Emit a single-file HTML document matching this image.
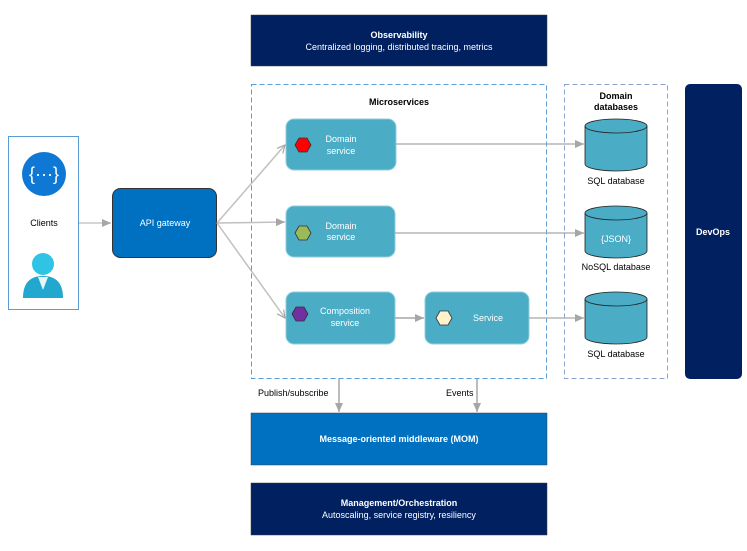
<!DOCTYPE html>
<html><head><style>
body{margin:0;background:#fff;}
svg{display:block;font-family:"Liberation Sans",sans-serif;}
</style></head><body>
<svg width="747" height="551" viewBox="0 0 747 551" xmlns="http://www.w3.org/2000/svg">
<defs>
<marker id="a" markerWidth="10" markerHeight="10" refX="9" refY="4" orient="auto" markerUnits="userSpaceOnUse"><path d="M0,0 L9,4 L0,8 z" fill="#a6a6a6"/></marker>
<marker id="o" markerWidth="10" markerHeight="10" refX="8" refY="4" orient="auto" markerUnits="userSpaceOnUse"><path d="M0,0 L8,4 L0,8" fill="none" stroke="#a6a6a6" stroke-width="1.2"/></marker>
</defs>
<!-- Observability -->
<rect x="251" y="15" width="296" height="51" fill="#002060" stroke="#404040" stroke-width="0.5"/>
<text x="399" y="38" fill="#fff" font-size="9" font-weight="bold" text-anchor="middle">Observability</text>
<text x="399" y="50" fill="#fff" font-size="9" text-anchor="middle">Centralized logging, distributed tracing, metrics</text>
<!-- Microservices -->
<rect x="251.5" y="84.5" width="295" height="294" fill="none" stroke="#5b9bd5" stroke-dasharray="5,3"/>
<text x="399" y="105" font-size="9" font-weight="bold" text-anchor="middle">Microservices</text>
<!-- Domain db -->
<rect x="564.5" y="84.5" width="103" height="294" fill="none" stroke="#8ea0d0" stroke-dasharray="5,3"/>
<text x="616" y="99" font-size="9" font-weight="bold" text-anchor="middle">Domain</text>
<text x="616" y="110" font-size="9" font-weight="bold" text-anchor="middle">databases</text>
<!-- DevOps -->
<rect x="685" y="84" width="57" height="295" rx="5" fill="#002060"/>
<text x="713" y="235" fill="#fff" font-size="9" font-weight="bold" text-anchor="middle">DevOps</text>
<!-- Clients -->
<rect x="8.5" y="136.5" width="70" height="173" fill="#fff" stroke="#5b9bd5"/>
<circle cx="44" cy="174" r="22" fill="#0f78d4"/>
<text x="44" y="180" fill="#fff" font-size="18" text-anchor="middle">{···}</text>
<text x="44" y="226" font-size="9" text-anchor="middle">Clients</text>
<circle cx="43" cy="264" r="11" fill="#2fc3e6"/>
<path d="M23,298 Q23,276 43,276 Q63,276 63,298 Z" fill="#22a7cf"/>
<path d="M38,277 L43,290 L48,277 Z" fill="#e6f7fc"/>
<!-- arrow clients->api -->
<line x1="79" y1="223" x2="111" y2="223" stroke="#c8c8c8" stroke-width="1.5" marker-end="url(#a)"/>
<!-- API gateway -->
<rect x="112.5" y="188.5" width="104" height="69" rx="8" fill="#0070c0" stroke="#333" stroke-width="1"/>
<text x="165" y="226" fill="#fff" font-size="9" text-anchor="middle">API gateway</text>
<!-- gateway fan -->
<line x1="217" y1="223" x2="285" y2="145" stroke="#c0c0c0" stroke-width="1.5" marker-end="url(#o)"/>
<line x1="217" y1="223" x2="285" y2="222" stroke="#c0c0c0" stroke-width="1.5" marker-end="url(#a)"/>
<line x1="217" y1="223" x2="285" y2="318" stroke="#c0c0c0" stroke-width="1.5" marker-end="url(#o)"/>
<!-- services -->
<rect x="286" y="119" width="110" height="51" rx="8" fill="#4bacc6" stroke="#92cddc" stroke-width="1"/>
<polygon points="295,145 299,138 307,138 311,145 307,152 299,152" fill="#ff0000" stroke="#333" stroke-width="0.8"/>
<text x="341" y="142" fill="#fff" font-size="9" text-anchor="middle">Domain</text>
<text x="341" y="154" fill="#fff" font-size="9" text-anchor="middle">service</text>
<rect x="286" y="206" width="109" height="51" rx="8" fill="#4bacc6" stroke="#92cddc" stroke-width="1"/>
<polygon points="295,233 299,226 307,226 311,233 307,240 299,240" fill="#9bbb59" stroke="#333" stroke-width="0.8"/>
<text x="341" y="229" fill="#fff" font-size="9" text-anchor="middle">Domain</text>
<text x="341" y="240" fill="#fff" font-size="9" text-anchor="middle">service</text>
<rect x="286" y="292" width="109" height="52" rx="8" fill="#4bacc6" stroke="#92cddc" stroke-width="1"/>
<polygon points="292,314 296,307 304,307 308,314 304,321 296,321" fill="#7030a0" stroke="#333" stroke-width="0.8"/>
<text x="345" y="314" fill="#fff" font-size="9" text-anchor="middle">Composition</text>
<text x="345" y="326" fill="#fff" font-size="9" text-anchor="middle">service</text>
<rect x="425" y="292" width="104" height="52" rx="8" fill="#4bacc6" stroke="#92cddc" stroke-width="1"/>
<polygon points="436,318 440,311 448,311 452,318 448,325 440,325" fill="#fff2cc" stroke="#333" stroke-width="0.8"/>
<text x="488" y="321" fill="#fff" font-size="9" text-anchor="middle">Service</text>
<line x1="395" y1="318" x2="424" y2="318" stroke="#a6a6a6" stroke-width="1.5" marker-end="url(#a)"/>
<!-- to dbs -->
<line x1="396" y1="144" x2="584" y2="144" stroke="#a6a6a6" stroke-width="1.2" marker-end="url(#a)"/>
<line x1="395" y1="233" x2="584" y2="233" stroke="#a6a6a6" stroke-width="1.2" marker-end="url(#a)"/>
<line x1="529" y1="318" x2="584" y2="318" stroke="#a6a6a6" stroke-width="1.2" marker-end="url(#a)"/>
<!-- cylinders -->
<g stroke="#222" stroke-width="0.8" fill="#4bacc6">
<path d="M585,126 L585,164 A31,7 0 0 0 647,164 L647,126"/>
<ellipse cx="616" cy="126" rx="31" ry="7"/>
<path d="M585,213 L585,251 A31,7 0 0 0 647,251 L647,213"/>
<ellipse cx="616" cy="213" rx="31" ry="7"/>
<path d="M585,299 L585,337 A31,7 0 0 0 647,337 L647,299"/>
<ellipse cx="616" cy="299" rx="31" ry="7"/>
</g>
<text x="616" y="184" font-size="9" text-anchor="middle">SQL database</text>
<text x="616" y="242" fill="#fff" font-size="9" text-anchor="middle">{JSON}</text>
<text x="616" y="270" font-size="9" text-anchor="middle">NoSQL database</text>
<text x="616" y="357" font-size="9" text-anchor="middle">SQL database</text>
<!-- pub/sub -->
<line x1="339" y1="379" x2="339" y2="412" stroke="#a6a6a6" stroke-width="1.5" marker-end="url(#a)"/>
<line x1="477" y1="379" x2="477" y2="412" stroke="#a6a6a6" stroke-width="1.5" marker-end="url(#a)"/>
<text x="258" y="396" font-size="9">Publish/subscribe</text>
<text x="446" y="396" font-size="9">Events</text>
<!-- MOM -->
<rect x="251" y="413" width="296" height="52" fill="#0070c0" stroke="#404040" stroke-width="0.5"/>
<text x="399" y="442" fill="#fff" font-size="9" font-weight="bold" text-anchor="middle">Message-oriented middleware (MOM)</text>
<!-- Management -->
<rect x="251" y="483" width="296" height="52" fill="#002060" stroke="#404040" stroke-width="0.5"/>
<text x="399" y="506" fill="#fff" font-size="9" font-weight="bold" text-anchor="middle">Management/Orchestration</text>
<text x="399" y="518" fill="#fff" font-size="9" text-anchor="middle">Autoscaling, service registry, resiliency</text>
</svg>
</body></html>
